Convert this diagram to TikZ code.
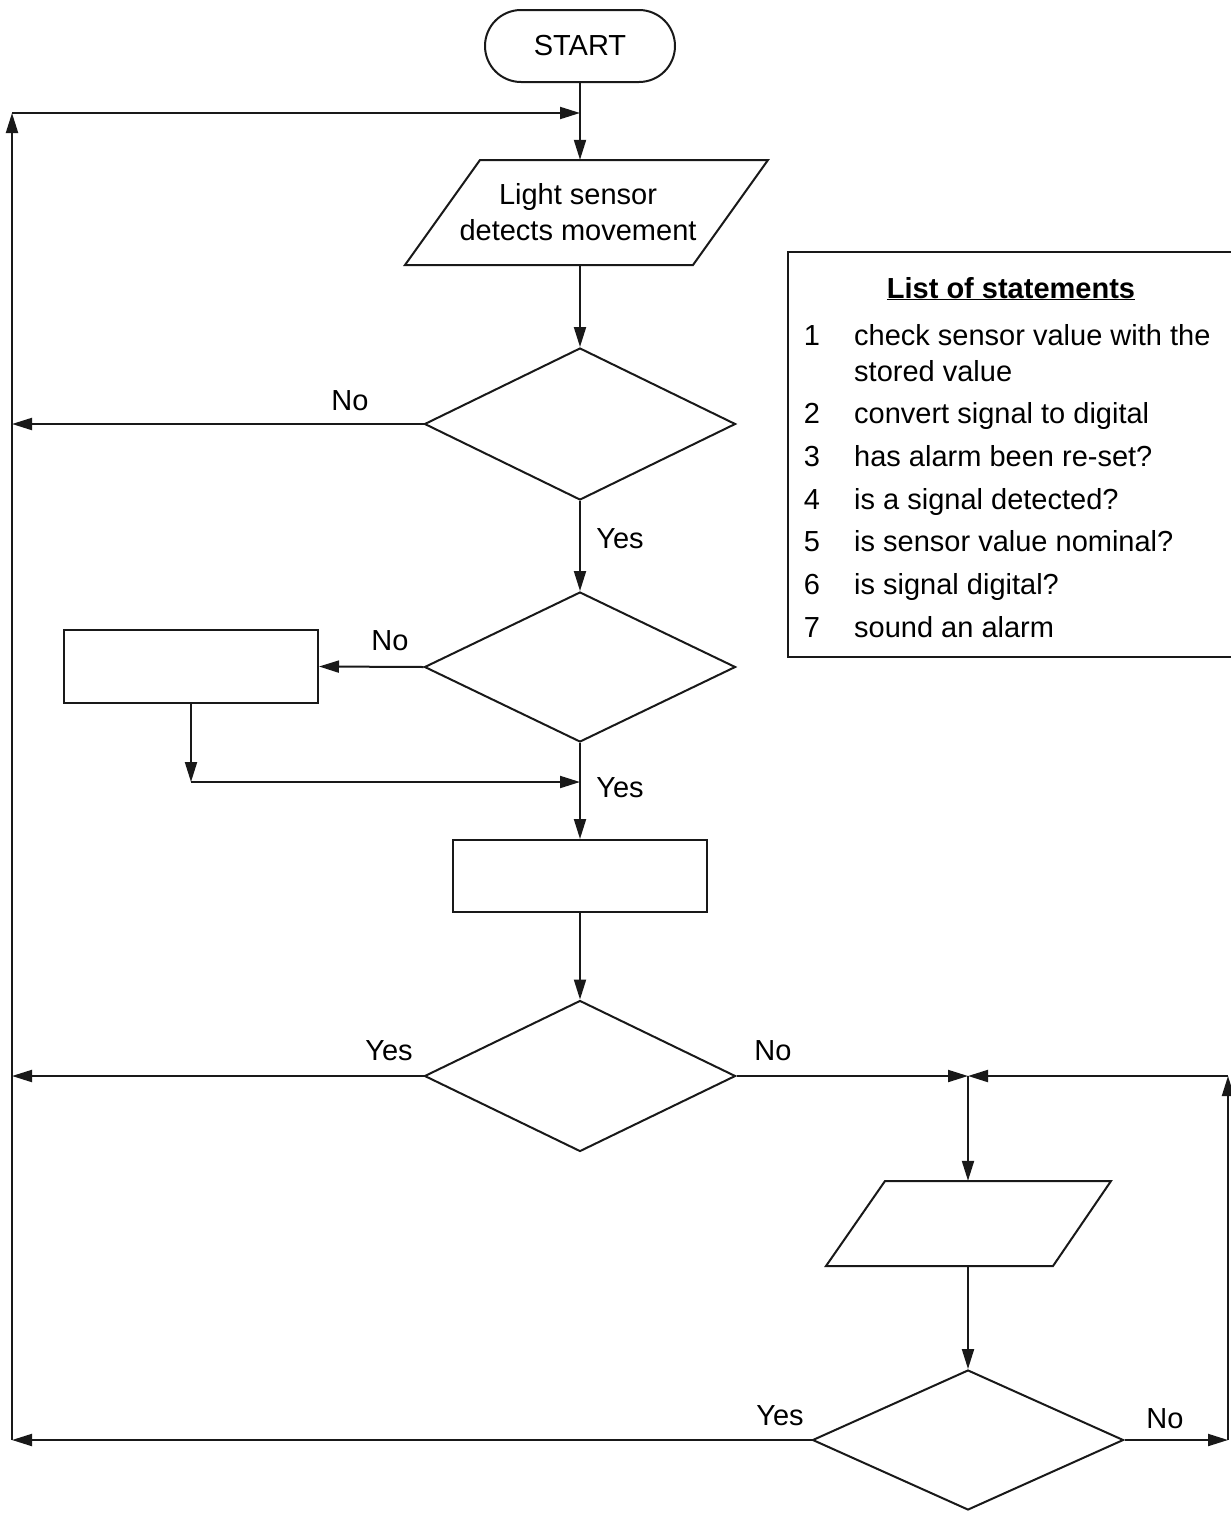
\documentclass[tikz,border=0pt]{standalone}
\usepackage{fontspec}
\setmainfont{Liberation Sans}
\usetikzlibrary{shapes.geometric,arrows.meta}
\tikzset{
  line/.style={line width=2pt, draw=black!90},
  arr/.style={line, -{Triangle[length=20pt,width=12pt]}},
  box/.style={line, rectangle, inner sep=0pt},
  dec/.style={line, diamond, inner sep=0pt},
  lbl/.style={font=\fontsize{29}{35}\selectfont, inner sep=0pt},
  ghost/.style={rectangle, inner sep=0pt},
}
\begin{document}
\begin{tikzpicture}[x=1pt,y=-1pt]
\useasboundingbox (0,0) rectangle (1231,1515);
\fill[white] (0,0) rectangle (1231,1515);

% START
\node[box, rounded corners=36pt, minimum width=190pt, minimum height=72pt, lbl] (start) at (580,46) {START};

% parallelogram 1
\draw[line] (480,160) -- (768,160) -- (693,265) -- (405,265) -- cycle;
\node[ghost, minimum width=300pt, minimum height=105pt] (p1) at (580,212.5) {};
\node[lbl, align=center] (p1t) at (578,212) {Light sensor\\[1pt]detects movement};

% decisions and boxes
\node[dec, minimum width=311pt, minimum height=152pt] (d1) at (580,424) {};
\node[dec, minimum width=311pt, minimum height=150pt] (d2) at (580,667) {};
\node[box, minimum width=254pt, minimum height=73pt] (r1) at (191,666.5) {};
\node[box, minimum width=254pt, minimum height=72pt] (r2) at (580,876) {};
\node[dec, minimum width=311pt, minimum height=151pt] (d3) at (580,1076) {};
\draw[line] (885,1181) -- (1111,1181) -- (1053,1266) -- (826,1266) -- cycle;
\node[ghost, minimum width=230pt, minimum height=85pt] (p2) at (968,1223.5) {};
\node[dec, minimum width=311pt, minimum height=140pt] (d4) at (968,1440) {};

% coordinates
\coordinate (ltop) at (12,113);
\coordinate (ctop) at (580,113);
\coordinate (lno1) at (12,424);
\coordinate (lyes3) at (12,1076);
\coordinate (lbot) at (12,1440);
\coordinate (c1) at (191,782);
\coordinate (c2) at (580,782);
\coordinate (j) at (968,1076);
\coordinate (rtop) at (1228,1076);
\coordinate (rbot) at (1228,1440);

% connectors
\draw[arr] (start.south) -- (p1.north);
\draw[arr] (p1.south) -- (d1.north);
\draw[arr] (d1.west) -- (lno1);
\draw[arr] (d1.south) -- (d2.north);
\draw[arr] (d2.west) -- (r1.east);
\draw[arr] (r1.south) -- (c1);
\draw[arr] (c1) -- (c2);
\draw[arr] (d2.south) -- (r2.north);
\draw[arr] (r2.south) -- (d3.north);
\draw[arr] (d3.west) -- (lyes3);
\draw[arr] (d3.east) -- (j);
\draw[arr] (rtop) -- (j);
\draw[arr] (j) -- (p2.north);
\draw[arr] (p2.south) -- (d4.north);
\draw[arr] (d4.west) -- (lbot);
\draw[arr] (d4.east) -- (rbot);
\draw[arr] (rbot) -- (rtop);
\draw[arr] (lbot) -- (ltop);
\draw[arr] (ltop) -- (ctop);

% labels
\node[lbl] (n1) at (350,401) {No};
\node[lbl] (y1) at (620,539) {Yes};
\node[lbl] (n2) at (390,641) {No};
\node[lbl] (y2) at (620,788) {Yes};
\node[lbl] (y3) at (389,1051) {Yes};
\node[lbl] (n3) at (773,1051) {No};
\node[lbl] (y4) at (780,1416) {Yes};
\node[lbl] (n4) at (1165,1419) {No};

% list of statements
\draw[line, line width=1.6pt] (1240,252) -- (788,252) -- (788,657) -- (1240,657);
\node[lbl, font=\fontsize{29}{35}\selectfont\bfseries, anchor=base] (title) at (1011,298) {\underline{List of statements}};
\foreach \n/\t/\yy in {1/check sensor value with the/345, 2/convert signal to digital/423, 3/has alarm been re-set?/466, 4/is a signal detected?/509, 5/is sensor value nominal?/551, 6/is signal digital?/594, 7/sound an alarm/637}{
  \node[lbl, anchor=base] (num\n) at (812,\yy) {\n};
  \node[lbl, anchor=base west] (txt\n) at (854,\yy) {\t};
}
\node[lbl, anchor=base west] (txt1b) at (854,381) {stored value};
\end{tikzpicture}
\end{document}
